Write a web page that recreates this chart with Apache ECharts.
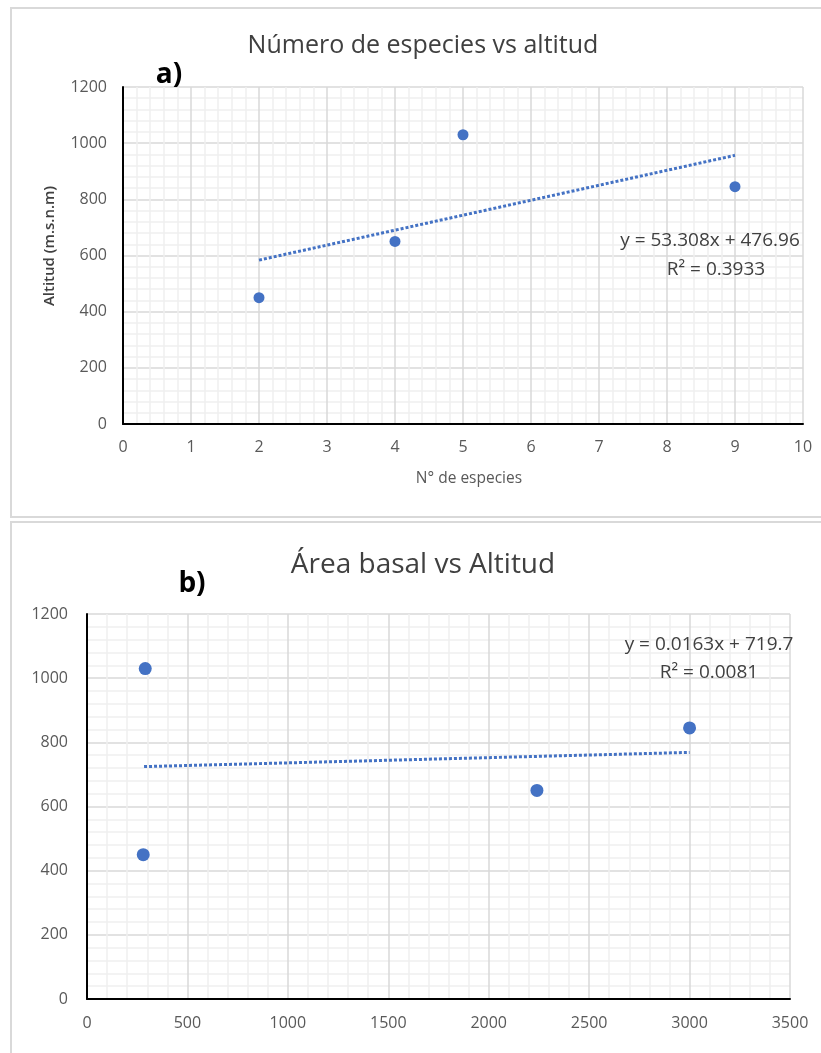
<!DOCTYPE html>
<html>
<head>
<meta charset="utf-8">
<script src="https://cdn.jsdelivr.net/npm/echarts@6/dist/echarts.min.js"></script>
<style>
html,body{margin:0;padding:0;background:#fff;}
#chart{width:821px;height:1053px;}
</style>
</head>
<body>
<div id="chart"></div>
<script>
// ---- Data ----
const titleA = 'Número de especies vs altitud';
const titleB = 'Área basal vs Altitud';
const xNameA = 'N° de especies';
const yNameA = 'Altitud (m.s.n.m)';

// Chart a: number of species vs altitude
const speciesA = [2, 4, 5, 9];
const altitudeA = [450, 650, 1030, 845];
const trendA = [[2, 583.6], [9, 956.7]];
const eqA = ['y = 53.308x + 476.96', 'R² = 0.3933'];

// Chart b: basal area vs altitude
const basalB = [290, 280, 2240, 3000];
const altitudeB = [1030, 450, 650, 845];
const trendB = [[284, 724.3], [3000, 768.6]];
const eqB = ['y = 0.0163x + 719.7', 'R² = 0.0081'];

const pointsA = speciesA.map((x, i) => [x, altitudeA[i]]);
const pointsB = basalB.map((x, i) => [x, altitudeB[i]]);

const FONT = '"Open Sans", "Noto Sans", sans-serif';
const BLUE = '#4472C4';

function axisCommon(margin) {
  return {
    axisLine: { show: true, onZero: false, lineStyle: { color: '#000', width: 2 } },
    axisTick: { show: false },
    axisLabel: { color: '#595959', fontFamily: FONT, fontSize: 16, margin,
                 formatter: v => String(v) },
    splitLine: { show: true, lineStyle: { color: '#d9d9d9', width: 1.5 } },
    minorTick: { show: false, splitNumber: 5 },
    minorSplitLine: { show: true, lineStyle: { color: '#efefef', width: 1.5 } }
  };
}
function xAxis(gridIndex, min, max, interval, margin) {
  return Object.assign({ type: 'value', gridIndex, min, max, interval }, axisCommon(margin));
}
function yAxis(gridIndex, margin) {
  return Object.assign({ type: 'value', gridIndex, min: 0, max: 1200, interval: 200 }, axisCommon(margin));
}

const chart = echarts.init(document.getElementById('chart'), null, { renderer: 'canvas' });

const txt = (text, x, y, size, opts) => ({
  type: 'text', x, y, z: 100,
  style: Object.assign({
    text, fill: '#404040', font: size + 'px ' + FONT,
    textAlign: 'center', textVerticalAlign: 'middle'
  }, opts || {})
});

const yTitle = txt(yNameA, 0, 0, 15, { fill: '#404040', font: '600 15px ' + FONT });
yTitle.x = 50; yTitle.y = 246; yTitle.rotation = Math.PI / 2;

chart.setOption({
  animation: false,
  backgroundColor: '#fff',
  grid: [
    { left: 123, top: 87, width: 680, height: 337 },
    { left: 87, top: 614, width: 703, height: 385 }
  ],
  xAxis: [xAxis(0, 0, 10, 1, 15), xAxis(1, 0, 3500, 500, 16)],
  yAxis: [yAxis(0, 16), yAxis(1, 19)],
  series: [
    { type: 'line', xAxisIndex: 0, yAxisIndex: 0, data: trendA, symbol: 'none',
      lineStyle: { color: BLUE, width: 3, type: [3, 2] }, z: 3 },
    { type: 'scatter', xAxisIndex: 0, yAxisIndex: 0, data: pointsA,
      symbol: 'circle', symbolSize: 11, itemStyle: { color: BLUE, opacity: 1 }, z: 4 },
    { type: 'line', xAxisIndex: 1, yAxisIndex: 1, data: trendB, symbol: 'none',
      lineStyle: { color: BLUE, width: 3, type: [3, 2] }, z: 3 },
    { type: 'scatter', xAxisIndex: 1, yAxisIndex: 1, data: pointsB,
      symbol: 'circle', symbolSize: 13, itemStyle: { color: BLUE, opacity: 1 }, z: 4 }
  ],
  graphic: [
    { type: 'rect', shape: { x: 11, y: 8, width: 830, height: 509 }, z: -1,
      style: { fill: 'none', stroke: '#d9d9d9', lineWidth: 2 } },
    { type: 'rect', shape: { x: 11, y: 522, width: 830, height: 560 }, z: -1,
      style: { fill: 'none', stroke: '#d9d9d9', lineWidth: 2 } },
    txt(titleA, 423, 46, 25),
    txt(titleB, 423, 565, 28),
    txt('a)', 169, 75, 28, { fill: '#000', font: 'bold 28px ' + FONT }),
    txt('b)', 192, 584, 28, { fill: '#000', font: 'bold 28px ' + FONT }),
    txt(xNameA, 469, 479, 15.5, { fill: '#595959' }),
    yTitle,
    txt(eqA[0], 710, 241, 19),
    txt(eqA[1], 716, 270, 19),
    txt(eqB[0], 709, 645, 19),
    txt(eqB[1], 709, 673, 19)
  ]
});
</script>
</body>
</html>
